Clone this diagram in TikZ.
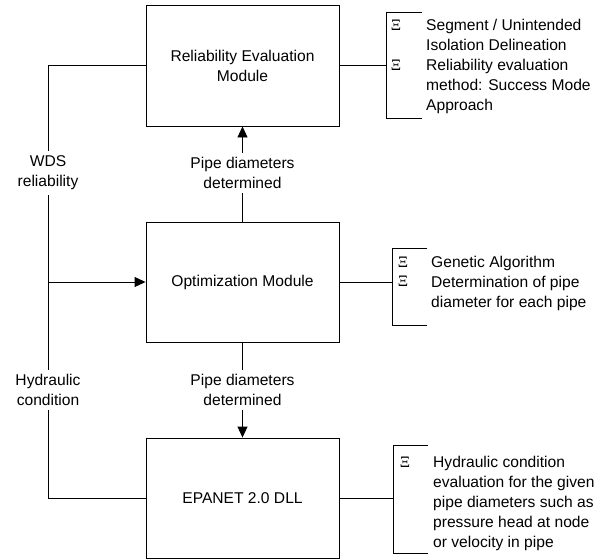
\documentclass[tikz,border=0pt]{standalone}
\usepackage{fontspec}
\setmainfont{Liberation Sans}
\newfontfamily\xifont{Liberation Serif}
\usetikzlibrary{arrows.meta}
\begin{document}
\begin{tikzpicture}[x=1pt,y=-1pt,
  txt/.style={font=\fontsize{15.6}{20}\selectfont},
  box/.style={txt, draw, line width=0.9pt, minimum width=193pt, minimum height=120pt, inner sep=0pt, align=center},
  lbl/.style={txt, fill=white, inner xsep=2pt, inner ysep=4.5pt, align=center},
  note/.style={txt, anchor=north west, inner sep=0pt, align=left},
  xi/.style={inner sep=0pt, font=\xifont\fontsize{16}{16}\selectfont},
  conn/.style={line width=0.9pt},
  arr/.style={conn, -{Triangle[length=11pt,width=10pt]}}]
\useasboundingbox (0,0) rectangle (603,560);

% boxes
\node[box, minimum height=121pt] (rel) at (242.5,65.5) {Reliability Evaluation\\Module};
\node[box] (opt) at (242.5,282) {Optimization Module};
\node[box] (epa) at (242.5,498) {EPANET 2.0 DLL};

% left loop
\coordinate (lt) at (48,65.5);
\coordinate (lm) at (48,282);
\coordinate (lb) at (48,498);
\draw[conn] (rel.west) -- (lt) -- (lb) -- (epa.west);
\draw[arr] (lm) -- (opt.west);
\node[lbl] (wds) at (48,173) {WDS\\reliability};
\node[lbl] (hyd) at (48,390) {Hydraulic\\condition};

% middle arrows
\draw[arr] (opt.north) -- (rel.south);
\draw[arr] (opt.south) -- (epa.north);
\node[lbl] (pd1) at (242.5,173) {Pipe diameters\\determined};
\node[lbl] (pd2) at (242.5,390) {Pipe diameters\\determined};

% right bracket 1
\coordinate (r1m) at (386,65.5);
\coordinate (r1t) at (386,12);
\coordinate (r1b) at (386,118);
\coordinate (r1te) at (422,12);
\coordinate (r1be) at (422,118);
\draw[conn] (rel.east) -- (r1m);
\draw[conn] (r1te) -- (r1t) -- (r1b) -- (r1be);
\node[xi] (x11) at (396,25) {Ξ};
\node[xi] (x12) at (396,65) {Ξ};
\node[note] (n1) at (426,19.2) {Segment / Unintended\\Isolation Delineation\\Reliability evaluation\\method: Success Mode\\Approach};

% right bracket 2
\coordinate (r2m) at (392,282);
\coordinate (r2t) at (392,248);
\coordinate (r2b) at (392,325);
\coordinate (r2te) at (427,248);
\coordinate (r2be) at (427,325);
\draw[conn] (opt.east) -- (r2m);
\draw[conn] (r2te) -- (r2t) -- (r2b) -- (r2be);
\node[xi] (x21) at (403,262) {Ξ};
\node[xi] (x22) at (403,281) {Ξ};
\node[note] (n2) at (431,256.2) {Genetic Algorithm\\Determination of pipe\\diameter for each pipe};

% right bracket 3
\coordinate (r3m) at (393,498);
\coordinate (r3t) at (393,445);
\coordinate (r3b) at (393,553);
\coordinate (r3te) at (428,445);
\coordinate (r3be) at (428,553);
\draw[conn] (epa.east) -- (r3m);
\draw[conn] (r3te) -- (r3t) -- (r3b) -- (r3be);
\node[xi] (x31) at (405,462) {Ξ};
\node[note] (n3) at (433,456.2) {Hydraulic condition\\evaluation for the given\\pipe diameters such as\\pressure head at node\\or velocity in pipe};
\end{tikzpicture}
\end{document}
